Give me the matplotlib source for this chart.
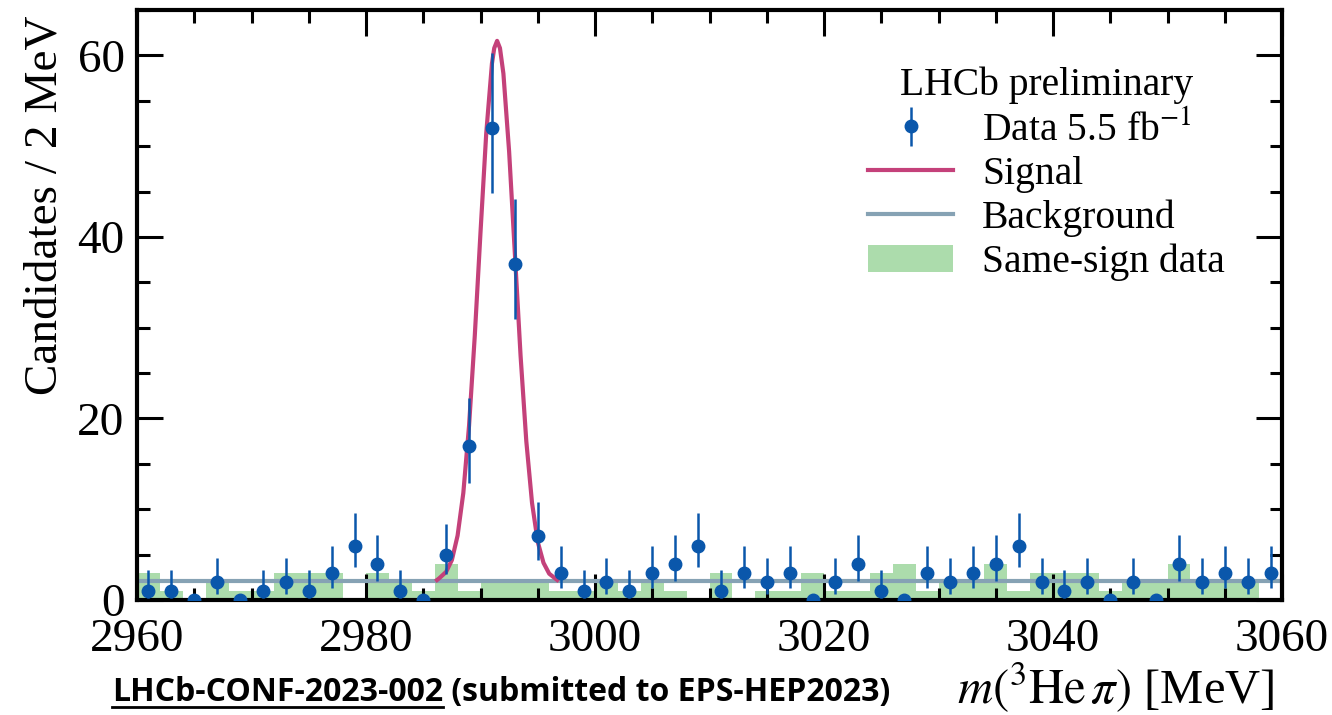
import numpy as np
import matplotlib
matplotlib.use("Agg")
import matplotlib.pyplot as plt
from matplotlib.ticker import MultipleLocator

# bin edges: 2 MeV bins from 2960 to 3060
edges = np.arange(2960, 3061, 2)
centres = edges[:-1] + 1

# opposite-sign data counts per bin
counts = [1, 1, 0, 2, 0, 1, 2, 1, 3, 6,
          4, 1, 0, 5, 17, 52, 37, 7, 3, 1,
          2, 1, 3, 4, 6, 1, 3, 2, 3, 0,
          2, 4, 1, 0, 3, 2, 3, 4, 6, 2,
          1, 2, 0, 2, 0, 4, 2, 3, 2, 3]

# same-sign data counts per bin
same_sign = [3, 1, 0, 2, 1, 1, 3, 3, 3, 0,
             3, 2, 1, 4, 1, 2, 2, 2, 1, 1,
             2, 1, 2, 1, 0, 3, 0, 1, 1, 3,
             1, 1, 3, 4, 1, 2, 2, 4, 1, 3,
             3, 3, 1, 2, 2, 4, 2, 2, 2, 0]

# fitted background level
bkg_level = 2.1

# signal + background curve
sig_x = [2986.2, 2986.4, 2987.0, 2987.5, 2988.0, 2988.5, 2989.0, 2989.5,
         2990.0, 2990.5, 2991.0, 2991.2, 2991.45, 2991.7, 2992.0, 2992.5,
         2993.0, 2993.5, 2994.0, 2994.5, 2995.0, 2995.5, 2996.0, 2996.5, 2996.7]
sig_y = [2.2, 2.4, 3.1, 4.4, 7.1, 11.8, 19.2, 29.1,
         40.5, 51.4, 59.1, 60.8, 61.6, 60.8, 58.0, 49.4,
         38.2, 26.9, 17.5, 10.7, 6.4, 4.1, 2.9, 2.4, 2.2]

plt.rcParams['font.family'] = 'Liberation Serif'
plt.rcParams['mathtext.fontset'] = 'stix'

c_data = '#0a57ab'
c_sig = '#c4417a'
c_bkg = '#86a2b4'
c_ss = '#acdcac'

W, H = 1332, 715
fig = plt.figure(figsize=(W / 100, H / 100), dpi=100)
ax = fig.add_axes([137 / W, 1 - 600 / H, (1282 - 137) / W, (600 - 10) / H])

n = np.array(counts, dtype=float)
nn = np.where(n > 0, n, 1)
# Poisson intervals (Gehrels approximations), none drawn for empty bins
up = np.where(n > 0, np.sqrt(nn + 0.75) + 1, 0)
lo = np.where(n > 0, n - n * (1 - 1 / (9 * nn) - 1 / (3 * np.sqrt(nn))) ** 3, 0)

ax.stairs(same_sign, edges, fill=True, color=c_ss, lw=0, zorder=1, label='Same-sign data')
ax.plot([2960, 3060], [bkg_level, bkg_level], color=c_bkg, lw=3, zorder=2, label='Background')
ax.plot(sig_x, sig_y, color=c_sig, lw=3, zorder=3, solid_joinstyle='round', label='Signal')
ax.errorbar(centres, counts, yerr=[lo, up], fmt='o', color=c_data, ms=9,
            elinewidth=1.8, capsize=0, zorder=4, label=r'Data 5.5 fb$^{-1}$')

ax.set_xlim(2960, 3060)
ax.set_ylim(0, 65)
ax.xaxis.set_major_locator(MultipleLocator(20))
ax.xaxis.set_minor_locator(MultipleLocator(5))
ax.yaxis.set_major_locator(MultipleLocator(20))
ax.yaxis.set_minor_locator(MultipleLocator(5))
ax.tick_params(which='both', direction='in', top=True, right=True, width=2.2)
ax.tick_params(which='major', length=19)
ax.tick_params(which='minor', length=9)
ax.tick_params(axis='x', labelsize=34, pad=13)
ax.tick_params(axis='y', labelsize=34, pad=9)
for s in ax.spines.values():
    s.set_linewidth(3)

h, l = ax.get_legend_handles_labels()
order = [l.index(r'Data 5.5 fb$^{-1}$'), l.index('Signal'), l.index('Background'), l.index('Same-sign data')]
ax.legend([h[i] for i in order], [l[i] for i in order], title='LHCb preliminary',
          loc='upper right', bbox_to_anchor=(1225 / W, 1 - 67 / H),
          bbox_transform=fig.transFigure, frameon=False, fontsize=28.5,
          title_fontsize=28.5, handlelength=2.15, handletextpad=0.73,
          labelspacing=0.17, borderpad=0, borderaxespad=0)

fig.text(45 / W, 1 - 205 / H, 'Candidates / 2 MeV', rotation=90,
         ha='center', va='center', fontsize=34)
fig.text(1274 / W, 1 - 704 / H, r'$m(^{3}\mathrm{He}\,\pi)$ [MeV]',
         ha='right', va='baseline', fontsize=35)

# footnote with underlined reference
renderer = fig.canvas.get_renderer()
foot_kw = dict(family='Open Sans', weight='bold', fontsize=23, va='baseline')
t1 = fig.text(112 / W, 1 - 701 / H, 'LHCb-CONF-2023-002', **foot_kw)
bb = t1.get_window_extent(renderer).transformed(fig.transFigure.inverted())
fig.text(bb.x1, 1 - 701 / H, ' (submitted to EPS-HEP2023)', **foot_kw)
fig.add_artist(plt.Line2D([bb.x0, bb.x1], [1 - 707 / H, 1 - 707 / H],
                          transform=fig.transFigure, color='black', lw=2))

fig.savefig('out.png', dpi=100)
